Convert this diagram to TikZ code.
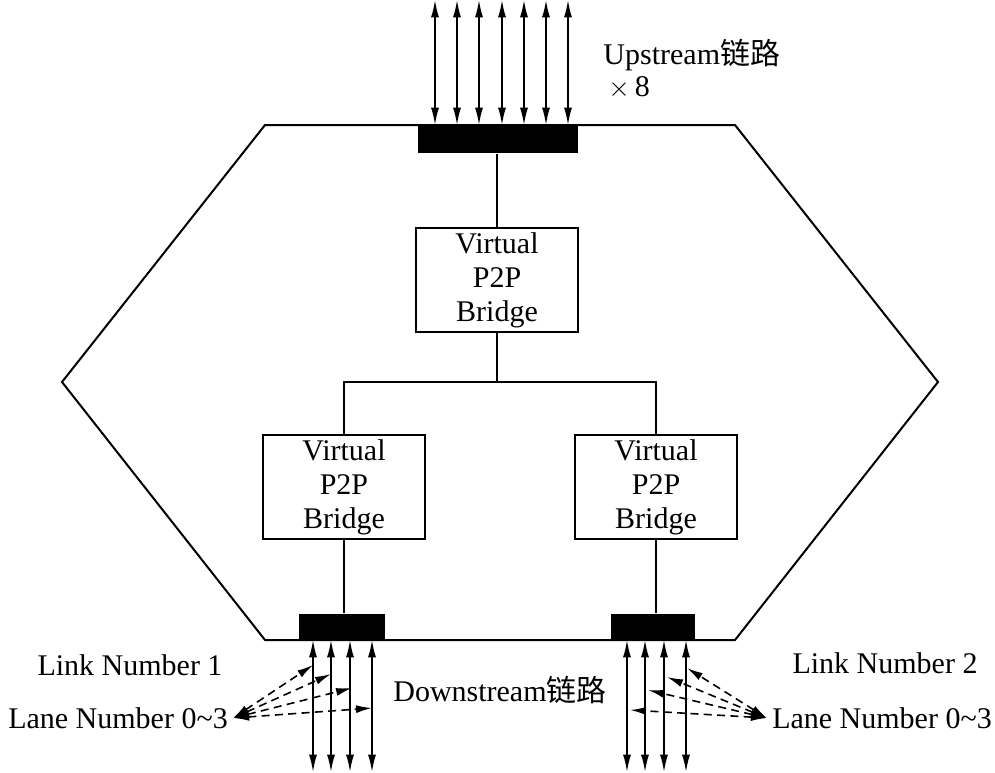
\documentclass[tikz,border=0pt]{standalone}
\usepackage{fontspec}
\setmainfont{Liberation Serif}
\newfontfamily\cjk{Noto Sans CJK SC}
\usepackage{tikz}
\usetikzlibrary{arrows.meta}

\begin{document}
\begin{tikzpicture}[x=0.75pt,y=-0.75pt,line width=1.5pt,
    font=\fontsize{22.5}{25.5}\selectfont,
    bridge/.style={draw, rectangle, align=center, minimum width=121.5pt, minimum height=78pt, inner sep=0pt},
    port/.style={fill=black, rectangle, inner sep=0pt},
    lane/.style={line width=1.2pt, {Latex[length=13pt,width=6pt]}-{Latex[length=13pt,width=6pt]}},
    pointer/.style={line width=1.2pt, dash pattern=on 6pt off 4pt, {Latex[length=12pt,width=6pt]}-{Latex[length=12pt,width=6pt]}}]
    \useasboundingbox (0,0) rectangle (995,772);
    % switch outline
    \draw (265,125) -- (735,125) -- (938,382) -- (735,640) -- (265,640) -- (62,382) -- cycle;
    % ports
    \node (up) [port, minimum width=120pt, minimum height=21pt] at (498,139) {};
    \node (dn1) [port, minimum width=64pt, minimum height=19.5pt] at (342,627) {};
    \node (dn2) [port, minimum width=63pt, minimum height=19.5pt] at (653,627) {};
    % bridges
    \node (vb0) [bridge] at (497,280) {Virtual\\P2P\\Bridge};
    \node (vb1) [bridge] at (344,487) {Virtual\\P2P\\Bridge};
    \node (vb2) [bridge] at (656,487) {Virtual\\P2P\\Bridge};
    \coordinate (bus) at (497,382);

    \draw[line width=1pt] (vb0.north) -- (vb0.north |- up.south);
    \draw[line width=1pt] (vb0) -- (bus);
    \draw[line width=1pt] (vb1.north) |- (bus) -| (vb2.north);
    \draw[line width=1pt] (vb1.south) -- (vb1.south |- dn1.north);
    \draw[line width=1pt] (vb2.south) -- (vb2.south |- dn2.north);

    % upstream links
    \foreach \x in {435,457,479,502,524,546,568}
        \draw[lane] (\x,0) -- (\x,125);
    \node (uplabel) [anchor=west] at (598,55) {Upstream{\cjk 链路}};
    \node (times) [anchor=west] at (603,88) {$\times$\,8};

    % downstream links
    \foreach \x in {313,331,350,372}
        \draw[lane] (\x,640) -- (\x,772);
    \foreach \x in {627,645,664,686}
        \draw[lane] (\x,640) -- (\x,772);
    \node (dnlabel) at (500,690) {Downstream{\cjk 链路}};
    \node (link1) at (130,665) {Link Number 1};
    \node (link2) at (885,663) {Link Number 2};
    \node (lane1) at (118,718) {Lane Number 0\textasciitilde3};
    \node (lane2) at (882,718) {Lane Number 0\textasciitilde3};

    % lane pointers
    \foreach \x/\y in {313/665,331/674,352/688,372/708}
        \draw[pointer] (lane1.east) -- (\x,\y);
    \foreach \x/\y in {687/668,667/677,648/690,630/710}
        \draw[pointer] (lane2.west) -- (\x,\y);
\end{tikzpicture}
\end{document}
